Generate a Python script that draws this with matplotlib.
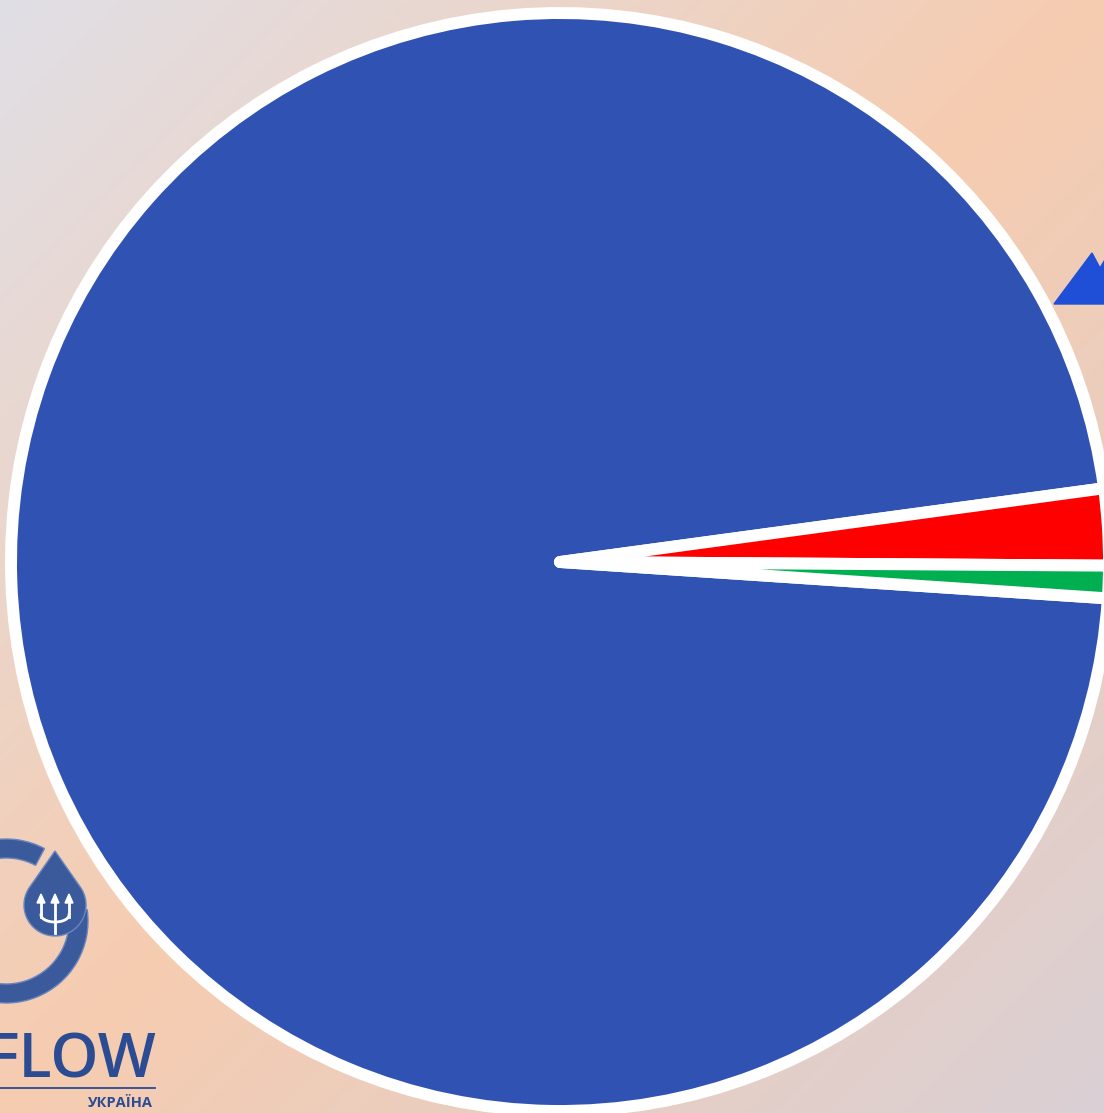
import matplotlib.pyplot as plt
import matplotlib.patches as mpatches
import numpy as np

# частки секторів
labels = ['Синій', 'Червоний', 'Зелений']
values = [96.8, 2.25, 0.95]
colors = ['#3053b3', '#ff0000', '#00b050']

W, H = 1104, 1113
fig = plt.figure(figsize=(W / 100, H / 100), dpi=100)

# фон з діагональним градієнтом
bg = fig.add_axes([0, 0, 1, 1])
bg.set_xlim(0, W)
bg.set_ylim(H, 0)
bg.axis('off')
xx, yy = np.meshgrid(np.linspace(0, 1, 300), np.linspace(0, 1, 300))
t = (xx + yy) / 2
c0 = np.array([0xe0, 0xdf, 0xe6]) / 255
c1 = np.array([0xf6, 0xcc, 0xb0]) / 255
c2 = np.array([0xda, 0xd0, 0xd5]) / 255
img = np.where((t < 0.5)[..., None],
               c0 + (c1 - c0) * (t / 0.5)[..., None],
               c1 + (c2 - c1) * ((t - 0.5) / 0.5)[..., None])
bg.imshow(img, extent=[0, W, H, 0], aspect='auto', zorder=0)

# синій трикутник праворуч
bg.add_patch(mpatches.Polygon([(1054, 304), (1092, 253), (1100, 268), (1106, 258), (1106, 304)],
                              color='#1f4fd6', zorder=1))

# логотип
logo = '#3a5a9c'
edge = '#6a86bd'
ring = mpatches.Wedge((6, 921), 82, -8, 298, width=19, color=logo, ec=edge, lw=1, zorder=2)
bg.add_patch(ring)
# крапля: дуга кола + загострений верх
a = np.radians(np.linspace(55, 305, 120))
dx = np.concatenate([[55], 55 + 31 * np.sin(a), [55]])
dy = np.concatenate([[851], 905 - 31 * np.cos(a), [851]])
bg.fill(dx, dy, color=logo, ec=edge, lw=1, zorder=2)
for x in (41, 55, 69):
    y0 = 933 if x == 55 else 917
    bg.plot([x, x], [y0, 901], color='white', lw=2, zorder=3)
    bg.add_patch(mpatches.Polygon([(x - 4, 903), (x + 4, 903), (x, 894)], color='white', zorder=3))
arc = np.linspace(0, np.pi, 50)
bg.plot(55 + 14 * np.cos(arc), 915 + 7 * np.sin(arc), color='white', lw=2, zorder=3)

bg.text(156, 1077, 'FLOW', fontsize=44, family='Open Sans', fontweight='semibold', color='#2b4b93',
        ha='right', va='baseline', zorder=2)
bg.plot([0, 155], [1088, 1088], color='#2b4b93', lw=1.3, zorder=2)
bg.text(153, 1107, 'УКРАЇНА', fontsize=10.5, family='Open Sans', fontweight='bold',
        color='#2b4b93', ha='right', va='baseline', zorder=2)

# кругова діаграма
ax = fig.add_axes([0, 0, 1, 1])
ax.set_facecolor('none')
r = 549
cx, cy = 560, 562
ax.axis('off')
ax.pie(values, colors=colors, startangle=-3.8, counterclock=False, radius=1,
       wedgeprops=dict(edgecolor='white', linewidth=8.6, joinstyle='round'))
ax.set_xlim(-cx / r, (W - cx) / r)
ax.set_ylim(-(H - cy) / r, cy / r)

fig.savefig('out.png', dpi=100)
